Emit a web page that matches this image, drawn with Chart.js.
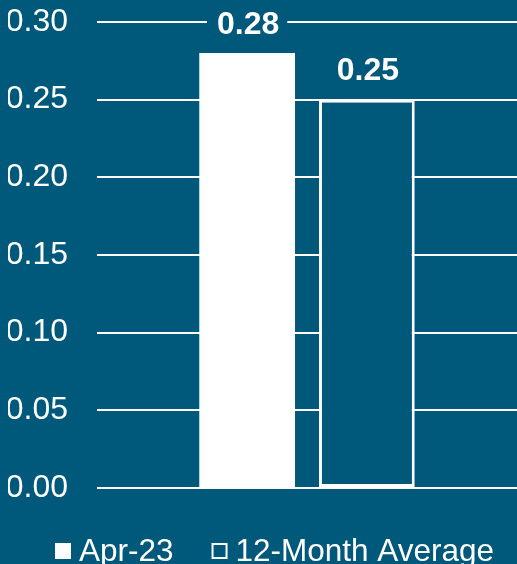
<!DOCTYPE html>
<html>
<head>
<meta charset="utf-8">
<script src="https://cdn.jsdelivr.net/npm/chart.js@4.4.1/dist/chart.umd.min.js"></script>
<style>
  html, body { margin: 0; padding: 0; background: #00587A; }
  #wrap { width: 517px; height: 564px; }
</style>
</head>
<body>
<div id="wrap"><canvas id="c" width="517" height="564"></canvas></div>
<script>
// Values
const categories = [''];
const seriesNames = ['Apr-23', '12-Month Average'];
const aprValues = [0.28];
const avgValues = [0.25];
const yTicks = [0.00, 0.05, 0.10, 0.15, 0.20, 0.25, 0.30];

const BG = '#00587A';
const WHITE = '#FFFFFF';
const FONT = '"Liberation Sans", Arial, sans-serif';

// Fill the whole canvas with the panel colour
const bgPlugin = {
  id: 'bgFill',
  beforeDraw(chart) {
    const ctx = chart.ctx;
    ctx.save();
    ctx.fillStyle = BG;
    ctx.fillRect(0, 0, chart.width, chart.height);
    ctx.restore();
  }
};

// Bold value labels above each bar, on a panel-coloured patch that hides the gridline
const valueLabels = {
  id: 'valueLabels',
  afterDatasetsDraw(chart) {
    const ctx = chart.ctx;
    ctx.save();
    ctx.font = 'bold 32px ' + FONT;
    ctx.textAlign = 'center';
    ctx.textBaseline = 'middle';
    chart.data.datasets.forEach((ds, i) => {
      const meta = chart.getDatasetMeta(i);
      meta.data.forEach((bar, j) => {
        const txt = ds.data[j].toFixed(2);
        const y = bar.y - 29;
        const w = ctx.measureText(txt).width + 18;
        ctx.fillStyle = BG;
        ctx.fillRect(bar.x - w / 2, y - 15, w, 30);
        ctx.fillStyle = WHITE;
        ctx.fillText(txt, bar.x + 1, y + 1);
      });
    });
    ctx.restore();
  }
};

// Legend row along the bottom
const bottomLegend = {
  id: 'bottomLegend',
  afterDraw(chart) {
    const ctx = chart.ctx;
    ctx.save();
    ctx.font = '31.5px ' + FONT;
    ctx.textBaseline = 'middle';
    const box = 16, gapText = 8, gapItem = 38;
    const cy = 551;
    let x = 55;
    chart.data.datasets.forEach((ds, i) => {
      if (i === 0) {
        ctx.fillStyle = WHITE;
        ctx.fillRect(x, cy - box / 2, box, box);
      } else {
        ctx.strokeStyle = WHITE;
        ctx.lineWidth = 2;
        ctx.strokeRect(x + 1, cy - box / 2 + 1, box - 2, box - 2);
      }
      x += box + gapText;
      ctx.fillStyle = WHITE;
      ctx.fillText(ds.label, x, cy + 1);
      x += ctx.measureText(ds.label).width + gapItem;
    });
    ctx.restore();
  }
};

new Chart(document.getElementById('c'), {
  type: 'bar',
  data: {
    labels: categories,
    datasets: [
      {
        label: seriesNames[0],
        data: aprValues,
        backgroundColor: WHITE,
        borderWidth: 0,
        categoryPercentage: 0.57,
        barPercentage: 0.80
      },
      {
        label: seriesNames[1],
        data: avgValues,
        backgroundColor: BG,
        borderColor: WHITE,
        borderWidth: 3,
        borderSkipped: false,
        categoryPercentage: 0.57,
        barPercentage: 0.80
      }
    ]
  },
  options: {
    responsive: false,
    animation: false,
    devicePixelRatio: 1,
    layout: { padding: { left: 8, right: 0, top: 22, bottom: 76 } },
    plugins: {
      legend: { display: false },
      tooltip: { enabled: false }
    },
    scales: {
      x: {
        display: false
      },
      y: {
        min: 0,
        max: 0.30,
        afterBuildTicks(axis) {
          axis.ticks = yTicks.map(v => ({ value: v }));
        },
        afterFit(axis) {
          axis.width = 89;
          axis.paddingTop = 0;
          axis.paddingBottom = 0;
        },
        ticks: {
          color: WHITE,
          font: { family: FONT, size: 32 },
          padding: 29,
          callback: v => Number(v).toFixed(2)
        },
        grid: {
          color: WHITE,
          lineWidth: 2,
          drawTicks: false
        },
        border: { display: false }
      }
    }
  },
  plugins: [bgPlugin, valueLabels, bottomLegend]
});
</script>
</body>
</html>
